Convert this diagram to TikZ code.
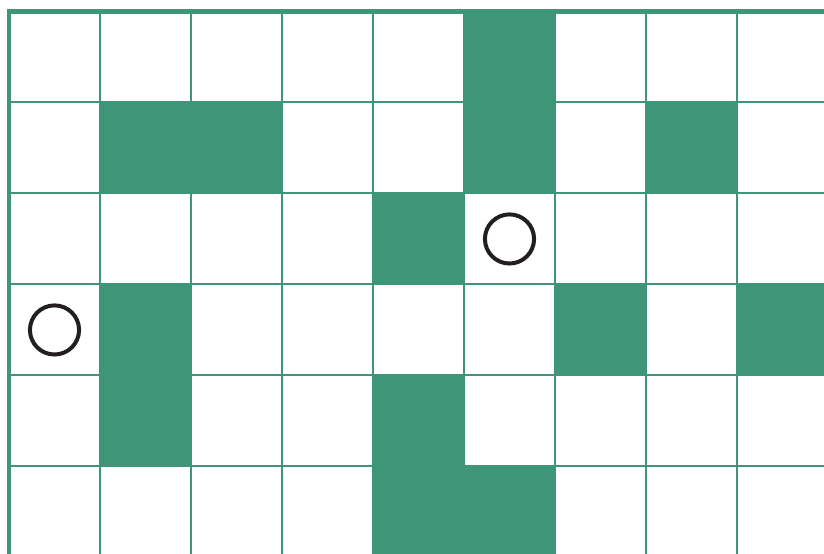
\documentclass[tikz,border=0pt]{standalone}
\usepackage{tikz}
\usetikzlibrary{positioning}
\definecolor{gridgreen}{RGB}{63,149,120}
\definecolor{ringblack}{RGB}{35,31,32}
\tikzset{
  wall/.style={fill=gridgreen, draw=none},
  gridline/.style={draw=gridgreen, line width=0.62pt},
  border/.style={draw=gridgreen, line width=1.3pt},
  ring/.style={circle, draw=ringblack, line width=1.25pt, minimum size=0.54cm, inner sep=0pt}
}

\begin{document}
\begin{tikzpicture}[x=1cm,y=-1cm]
  \useasboundingbox (-0.099,-0.126) rectangle (8.956,5.962);
  \clip (-0.099,-0.126) rectangle (8.956,5.962);
  % filled cells (column/row)
  \foreach \c/\r in {5/0, 1/1, 2/1, 5/1, 7/1, 4/2, 1/3, 6/3, 8/3, 1/4, 4/4, 4/5, 5/5}
    \fill[wall] (\c,\r) rectangle ++(1,1);
  % grid
  \foreach \x in {1,...,9}
    \draw[gridline] (\x,0) -- (\x,6.5);
  \foreach \y in {1,...,6}
    \draw[gridline] (0,\y) -- (9.5,\y);
  \draw[border] (0,6.5) -- (0,0) -- (9.5,0);
  % markers
  \node[ring] (markA) at (5.5,2.5) {};
  \node[ring] (markB) at (0.5,3.5) {};
\end{tikzpicture}
\end{document}
